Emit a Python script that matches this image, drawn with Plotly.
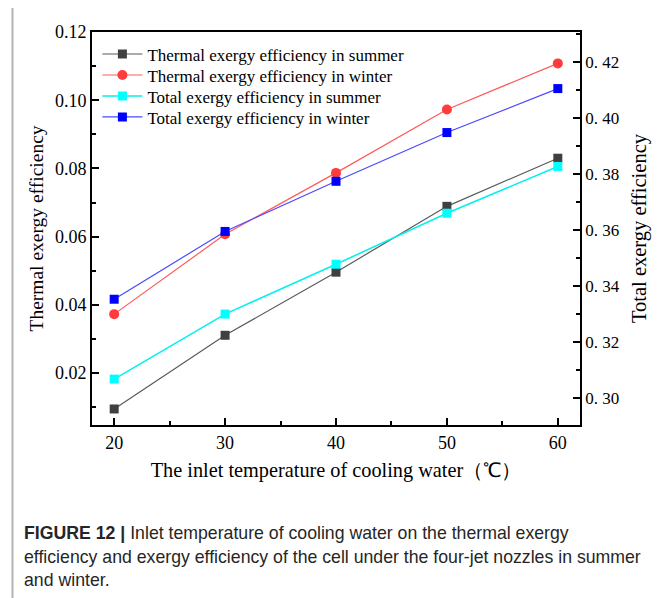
import plotly.graph_objects as go

temps = [20, 30, 40, 50, 60]
thermal_summer = [0.0095, 0.0311, 0.0496, 0.0689, 0.0830]
thermal_winter = [0.0373, 0.0607, 0.0787, 0.0973, 0.1108]
total_summer = [0.3069, 0.3301, 0.3479, 0.3661, 0.3828]
total_winter = [0.3354, 0.3596, 0.3775, 0.3949, 0.4106]

left_ticks = [0.02, 0.04, 0.06, 0.08, 0.10, 0.12]
right_ticks = [0.30, 0.32, 0.34, 0.36, 0.38, 0.40, 0.42]
right_ticktext = ["0. 30", "0. 32", "0. 34", "0. 36", "0. 38", "0. 40", "0. 42"]
x_ticks = [20, 30, 40, 50, 60]

# the page body adds an 8px margin; lay out in reference pixels, shifted
OFF = 8
W, H = 663 - OFF, 598 - OFF
L, R, T, B = 92, 580, 31.5, 425  # reference pixel positions of plot area

def px(x):
    return (x - L) / (R - L)

def py(y):
    return (B - y) / (B - T)

serif = "Liberation Serif, Times New Roman, serif"

fig = go.Figure()
fig.add_trace(go.Scatter(x=temps, y=thermal_summer, name="Thermal exergy efficiency in summer",
                         mode="lines+markers", line=dict(color="#5a5a5a", width=1.2),
                         marker=dict(symbol="square", size=9, color="#404040"), legend="legend"))
fig.add_trace(go.Scatter(x=temps, y=thermal_winter, name="Thermal exergy efficiency in winter",
                         mode="lines+markers", line=dict(color="#ff5a5a", width=1.2),
                         marker=dict(symbol="circle", size=10, color="#ff3b3b"), legend="legend2"))
fig.add_trace(go.Scatter(x=temps, y=total_summer, name="Total exergy efficiency in summer",
                         mode="lines+markers", line=dict(color="#00f0f0", width=1.5),
                         marker=dict(symbol="square", size=9, color="#00ffff"), yaxis="y2",
                         legend="legend3"))
fig.add_trace(go.Scatter(x=temps, y=total_winter, name="Total exergy efficiency in winter",
                         mode="lines+markers", line=dict(color="#4a4aff", width=1.2),
                         marker=dict(symbol="square", size=9, color="#0000ff"), yaxis="y2",
                         legend="legend4"))

leg_x = px(97.4)
rows = [54, 75, 96, 117]

def leg(ypix):
    return dict(x=leg_x, y=py(ypix), xanchor="left", yanchor="middle",
                bgcolor="rgba(0,0,0,0)", font=dict(family=serif, size=17, color="black"),
                itemwidth=40)

tick_common = dict(ticks="inside", ticklen=7, tickwidth=1.5, tickcolor="black",
                   showgrid=False, zeroline=False, showline=True,
                   linecolor="black", linewidth=1.8)

fig.update_layout(
    width=W, height=H,
    margin=dict(l=L - OFF, r=W - (R - OFF), t=T - OFF, b=H - (B - OFF)),
    paper_bgcolor="white", plot_bgcolor="white",
    font=dict(family=serif, color="black", size=16),
    showlegend=True,
    legend=leg(rows[0]), legend2=leg(rows[1]), legend3=leg(rows[2]), legend4=leg(rows[3]),
    xaxis=dict(range=[18, 62], tickvals=x_ticks, mirror=True,
               minor=dict(dtick=5, tick0=0, ticks="inside", ticklen=4, tickcolor="black"),
               title=dict(text="The inlet temperature of cooling water（℃）",
                          font=dict(size=20.3, family=serif), standoff=11),
               tickfont=dict(size=18), **tick_common),
    yaxis=dict(range=[0.0048, 0.12], tickvals=left_ticks, tickformat=".2f", mirror=True,
               minor=dict(dtick=0.01, tick0=0, ticks="inside", ticklen=4, tickcolor="black"),
               title=dict(text="Thermal exergy efficiency", font=dict(size=19.5, family=serif), standoff=6),
               tickfont=dict(size=18), **tick_common),
    yaxis2=dict(range=[0.2905, 0.4308], overlaying="y", side="right",
                tickvals=right_ticks, ticktext=right_ticktext,
                minor=dict(dtick=0.01, tick0=0, ticks="inside", ticklen=4, tickcolor="black"),
                title=dict(text="Total exergy efficiency", font=dict(size=20.5, family=serif), standoff=13),
                tickfont=dict(size=17), **tick_common),
)

# outer grey frame
fig.add_shape(type="rect", xref="paper", yref="paper",
              x0=px(12.5), x1=px(660.5), y0=py(620), y1=py(6.5),
              line=dict(color="#b4b4b4", width=2), fillcolor="rgba(0,0,0,0)", layer="below")

sans = "Liberation Sans, Arial, sans-serif"
caption = [
    "<b>FIGURE 12 |</b> Inlet temperature of cooling water on the thermal exergy",
    "efficiency and exergy efficiency of the cell under the four-jet nozzles in summer",
    "and winter.",
]
for line, ypix in zip(caption, [533, 557, 580]):
    fig.add_annotation(xref="paper", yref="paper", x=px(22), y=py(ypix),
                       xanchor="left", yanchor="middle", showarrow=False,
                       text=line, font=dict(family=sans, size=17.7, color="#262626"))

fig.write_html("out.html")
